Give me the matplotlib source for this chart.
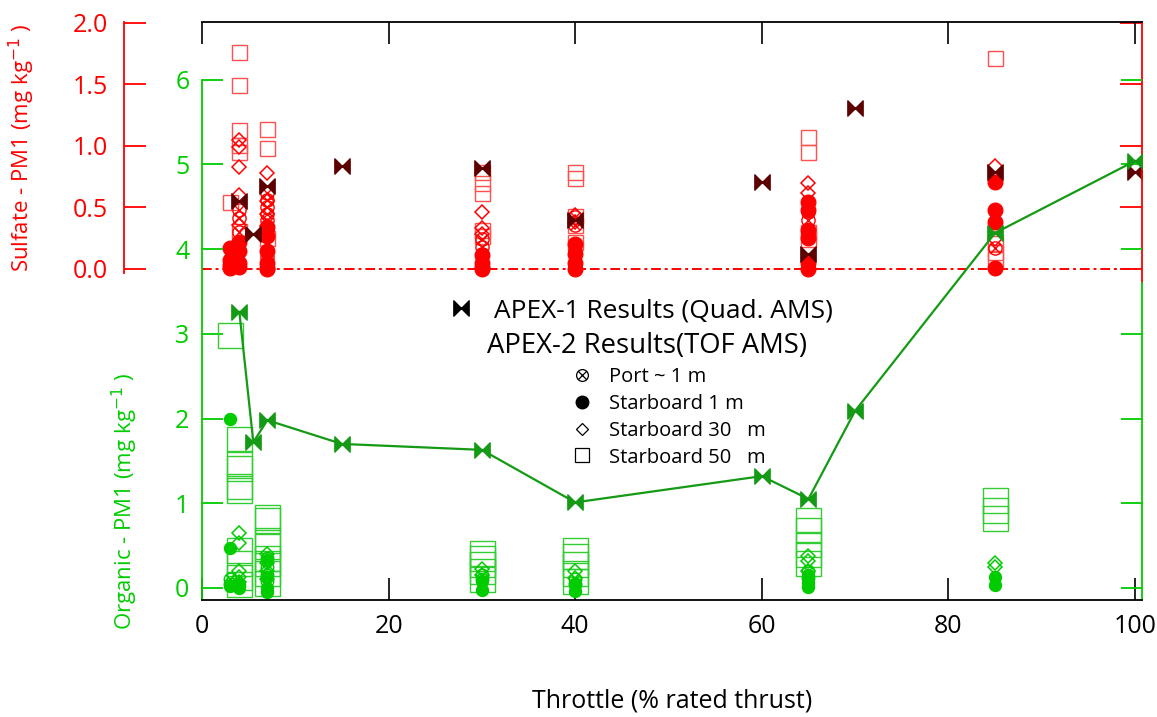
import matplotlib.pyplot as plt
from matplotlib.path import Path
from matplotlib.lines import Line2D

plt.rcParams['font.family'] = ['Open Sans', 'DejaVu Sans']

RED = '#ff0000'
RED_SQ = '#ff5050'
DARKRED = '#5c0000'
GREEN = '#00cc00'
GREEN_SQ = '#33cc33'
GREEN_LINE = '#149a14'

# APEX-1 (Quad. AMS)
apex1_x = [4, 5.5, 7, 15, 30, 40, 60, 65, 70, 85, 100]
apex1_org = [3.26, 1.72, 1.98, 1.70, 1.63, 1.01, 1.32, 1.05, 2.09, 4.19, 5.04]
apex1_sulf = [0.55, 0.28, 0.67, 0.84, 0.82, 0.40, 0.71, 0.12, 1.31, 0.79, 0.79]

# APEX-2 sulfate (TOF AMS)
sulf_port_x = [4, 4, 4, 7, 7, 7, 7, 7, 7, 7, 30, 30, 30, 40, 40, 40, 65, 65, 65, 85]
sulf_port_y = [0.48, 0.41, 0.30, 0.62, 0.56, 0.50, 0.45, 0.40, 0.32, 0.10,
               0.24, 0.18, 0.12, 0.42, 0.36, 0.15, 0.46, 0.40, 0.28, 0.17]
sulf_sb1_x = [3, 3, 3, 3, 4, 4, 4, 4, 7, 7, 7, 7, 7, 7, 30, 30, 30, 30,
              40, 40, 40, 40, 65, 65, 65, 65, 65, 65, 85, 85, 85, 85]
sulf_sb1_y = [0.17, 0.07, 0.03, 0.01, 0.22, 0.15, 0.05, 0.02, 0.34, 0.27, 0.15, 0.05, 0.0, 0.01,
              0.11, 0.05, 0.0, 0.02, 0.20, 0.12, 0.05, 0.0, 0.54, 0.48, 0.32, 0.25, 0.05, 0.0,
              0.71, 0.48, 0.38, 0.01]
sulf_sb30_x = [4, 4, 4, 4, 4, 7, 7, 7, 7, 30, 30, 30, 40, 40, 65, 65, 85, 85]
sulf_sb30_y = [1.05, 0.99, 0.83, 0.60, 0.36, 0.78, 0.55, 0.45, 0.35,
               0.46, 0.33, 0.28, 0.44, 0.38, 0.70, 0.62, 0.84, 0.24]
sulf_sb50_x = [3, 4, 4, 4, 4, 4, 4, 7, 7, 7, 30, 30, 30, 30, 30,
               40, 40, 40, 40, 40, 65, 65, 65, 65, 85, 85, 85, 85]
sulf_sb50_y = [0.54, 1.76, 1.49, 1.13, 1.01, 0.95, 0.31, 1.14, 0.98, 0.25,
               0.79, 0.70, 0.62, 0.32, 0.27, 0.79, 0.74, 0.43, 0.36, 0.22,
               1.07, 0.95, 0.30, 0.24, 1.71, 0.21, 0.14, 0.08]

# APEX-2 organic (TOF AMS)
org_port_x = [3, 3, 7, 7, 7, 7, 30, 30, 40, 40, 65, 65]
org_port_y = [0.05, 0.10, 0.35, 0.25, 0.15, 0.08, 0.15, 0.10, 0.10, 0.05, 0.20, 0.12]
org_sb1_x = [3, 3, 3, 4, 4, 4, 7, 7, 7, 7, 30, 30, 40, 40, 65, 65, 65, 85, 85]
org_sb1_y = [2.00, 0.47, 0.02, 0.02, 0.0, 0.05, 0.33, 0.13, 0.0, -0.05,
             0.08, -0.02, 0.05, -0.03, 0.15, 0.06, 0.01, 0.13, 0.03]
org_sb30_x = [4, 4, 4, 4, 4, 7, 7, 7, 7, 30, 30, 40, 40, 65, 65, 65, 85, 85]
org_sb30_y = [0.65, 0.53, 0.20, 0.13, 0.07, 0.40, 0.30, 0.20, 0.10,
              0.22, 0.15, 0.20, 0.12, 0.38, 0.32, 0.20, 0.30, 0.25]
org_sb50_x = [3, 4, 4, 4, 4, 4, 4, 4, 4, 4, 7, 7, 7, 7, 7, 7, 7, 7,
              30, 30, 30, 30, 30, 40, 40, 40, 40, 40, 65, 65, 65, 65, 65, 85, 85, 85]
org_sb50_y = [2.99, 1.76, 1.47, 1.42, 1.20, 1.16, 0.45, 0.30, 0.13, 0.05,
              0.84, 0.80, 0.57, 0.50, 0.35, 0.30, 0.18, 0.06,
              0.41, 0.35, 0.28, 0.20, 0.10, 0.45, 0.38, 0.28, 0.18, 0.08,
              0.80, 0.68, 0.52, 0.40, 0.30, 1.04, 0.92, 0.82]

# marker shapes
bowtie = Path([(-1, -1), (0, 0), (-1, 1), (-1, -1), (1, -1), (0, 0), (1, 1), (1, -1)],
              [Path.MOVETO, Path.LINETO, Path.LINETO, Path.CLOSEPOLY,
               Path.MOVETO, Path.LINETO, Path.LINETO, Path.CLOSEPOLY])
k = 0.707
otimes = Path.make_compound_path(
    Path.unit_circle(),
    Path([(-k, -k), (k, k)], [Path.MOVETO, Path.LINETO]),
    Path([(-k, k), (k, -k)], [Path.MOVETO, Path.LINETO]))

fig = plt.figure(figsize=(11.57, 7.17), dpi=100)
ax = fig.add_subplot(111)
fig.subplots_adjust(left=202 / 1157, right=1142 / 1157, top=1 - 22 / 717, bottom=1 - 600 / 717)
ax2 = ax.twinx()
ax.set_zorder(ax2.get_zorder() + 1)
ax.patch.set_visible(False)

ax.set_xlim(0, 100.75)
ax.set_ylim(-0.142, 6.68)
ax2.set_ylim(-2.687, 2.005)

# sulfate (red, upper scale)
ax2.axhline(0, color=RED, lw=1.4, ls=(0, (5, 2, 1.5, 2)), zorder=1)
ax2.plot(sulf_sb50_x, sulf_sb50_y, ls='none', marker='s', ms=10.8, mfc='none', mec=RED_SQ, mew=1.0)
ax2.plot(sulf_sb30_x, sulf_sb30_y, ls='none', marker='D', ms=7.0, mfc='none', mec=RED, mew=1.1)
ax2.plot(sulf_port_x, sulf_port_y, ls='none', marker=otimes, ms=9.5, mfc='none', mec=RED, mew=1.0)
ax2.plot(sulf_sb1_x, sulf_sb1_y, ls='none', marker='o', ms=10.5, color=RED)
ax2.plot(apex1_x, apex1_sulf, ls='none', marker=bowtie, ms=11, color=DARKRED)

# organic (green, lower scale)
ax.plot(org_sb50_x, org_sb50_y, ls='none', marker='s', ms=18, mfc='none', mec=GREEN_SQ, mew=1.0)
ax.plot(org_sb30_x, org_sb30_y, ls='none', marker='D', ms=7.6, mfc='none', mec=GREEN, mew=1.1)
ax.plot(org_port_x, org_port_y, ls='none', marker=otimes, ms=9, mfc='none', mec=GREEN, mew=1.0)
ax.plot(org_sb1_x, org_sb1_y, ls='none', marker='o', ms=8.6, color=GREEN)
ax.plot(apex1_x, apex1_org, '-', color=GREEN_LINE, lw=1.6, marker=bowtie, ms=11)

# x axis (black frame top and bottom)
ax.set_xticks([0, 20, 40, 60, 80, 100])
ax.tick_params(axis='x', direction='in', top=True, bottom=True, length=16, width=1.2,
               color='black', labelsize=18, pad=10)
for s in ['top', 'bottom']:
    ax.spines[s].set_linewidth(1.3)
    ax2.spines[s].set_visible(False)
ax.set_xlabel('Throttle (% rated thrust)', fontsize=18, labelpad=36)

# organic y axis
ax.set_yticks(range(7))
ax.tick_params(axis='y', direction='in', left=True, right=True, length=15, width=1.3,
               color=GREEN, labelcolor=GREEN, labelsize=18, pad=9)
ax.spines['left'].set_color(GREEN)
ax.spines['right'].set_color(GREEN)
ax.spines['left'].set_bounds(-0.142, 6)
ax.spines['right'].set_bounds(-0.142, 3.6)
ax.spines['left'].set_linewidth(1.3)
ax.spines['right'].set_linewidth(1.3)
ax.set_ylabel('Organic - PM1 (mg kg$^{-1}$ )', color=GREEN, fontsize=16)
ax.yaxis.set_label_coords(-0.066, 0.17)

# sulfate y axis
ax2.set_yticks([0, 0.5, 1.0, 1.5, 2.0])
ax2.set_yticklabels(['0.0', '0.5', '1.0', '1.5', '2.0'])
ax2.yaxis.set_ticks_position('both')
ax2.tick_params(axis='y', direction='in', length=16, width=1.3, color=RED, labelcolor=RED,
                labelsize=18, labelleft=True, labelright=False, pad=12)
ax2.spines['left'].set_position(('outward', 56))
ax2.spines['left'].set_color(RED)
ax2.spines['right'].set_color(RED)
ax2.spines['left'].set_bounds(-0.03, 2.005)
ax2.spines['right'].set_bounds(-0.114, 2.005)
ax2.spines['left'].set_linewidth(1.3)
ax2.spines['right'].set_linewidth(1.3)
ax2.yaxis.set_label_position('left')
ax2.set_ylabel('Sulfate - PM1 (mg kg$^{-1}$ )', color=RED, fontsize=16)
ax2.yaxis.set_label_coords(-0.175, 0.782)

# legend block
leg1 = ax.legend(handles=[Line2D([], [], ls='none', marker=bowtie, ms=11, color='black')],
                 labels=['APEX-1 Results (Quad. AMS)'], loc='center left',
                 bbox_to_anchor=(448 / 1157, 1 - 311 / 717), bbox_transform=fig.transFigure,
                 frameon=False, fontsize=18.9, handlelength=1.0, handletextpad=0.75,
                 borderpad=0, borderaxespad=0)
ax.add_artist(leg1)
fig.text(647 / 1157, 1 - 346 / 717, 'APEX-2 Results(TOF AMS)', fontsize=19.8,
         ha='center', va='center')
handles = [
    Line2D([], [], ls='none', marker=otimes, ms=8.5, mfc='none', mec='black', mew=0.9),
    Line2D([], [], ls='none', marker='o', ms=9, color='black'),
    Line2D([], [], ls='none', marker='D', ms=6.3, mfc='none', mec='black', mew=0.9),
    Line2D([], [], ls='none', marker='s', ms=9.5, mfc='none', mec='black', mew=0.9),
]
labels = ['Port ~ 1 m', 'Starboard 1 m', 'Starboard 30   m', 'Starboard 50   m']
ax.legend(handles=handles, labels=labels, loc='upper left',
          bbox_to_anchor=(572 / 1157, 1 - 367 / 717), bbox_transform=fig.transFigure,
          frameon=False, fontsize=14.5, handlelength=1.0, handletextpad=0.85,
          labelspacing=0.34, borderpad=0, borderaxespad=0)

fig.savefig('out.png', dpi=100)
